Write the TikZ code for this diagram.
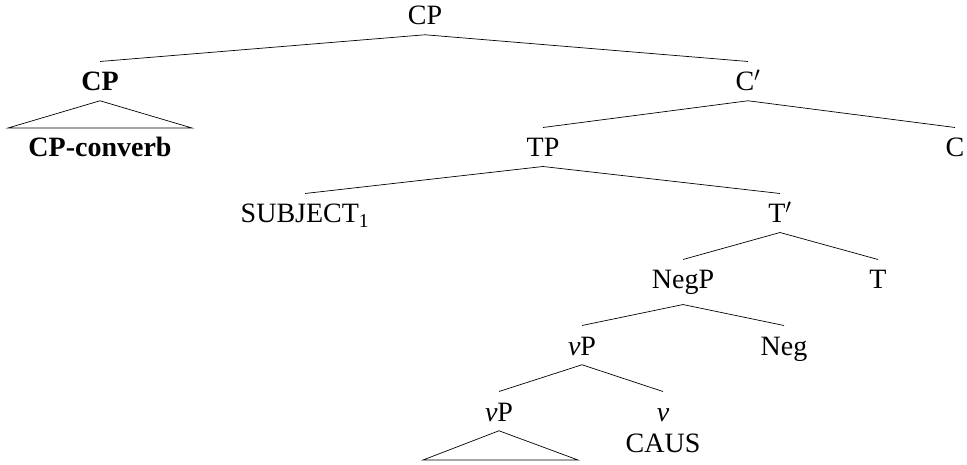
\documentclass[tikz,border=0pt]{standalone}
\usepackage{fontspec}
\setmainfont{Liberation Serif}
\usetikzlibrary{positioning, calc}

\begin{document}
\begin{tikzpicture}[
    x=1pt, y=-1pt,
    cat/.style={font=\fontsize{28}{32}\selectfont, anchor=base, text height=20pt, inner sep=9.3pt},
    boldcat/.style={cat, font=\fontsize{28}{32}\selectfont\bfseries},
    branch/.style={line width=0.7pt}
]
    \useasboundingbox (0,0) rectangle (967,465);

    % Root
    \node[cat] (cp) at (425,25) {CP};

    % Adjoined converb clause
    \node[boldcat] (adjcp) at (100,91) {CP};
    \node[boldcat] (converb) at (100,157) {CP-converb};
    \coordinate (tri1l) at (8,128);
    \coordinate (tri1r) at (192,128);

    % C-bar and its daughters
    \node[cat] (cbar) at (748,91) {C$'$};
    \node[cat] (tp) at (543,157) {TP};
    \node[cat] (c) at (955,157) {C};

    % TP
    \node[cat] (subj) at (305,223) {SUBJECT\textsubscript{1}};
    \node[cat] (tbar) at (780,223) {T$'$};
    \node[cat] (negp) at (683,289) {NegP};
    \node[cat] (t) at (878,289) {T};

    % NegP and vP
    \node[cat] (vp) at (582,355) {\textit{v}P};
    \node[cat] (neg) at (784,355) {Neg};
    \node[cat] (vplow) at (499,421) {\textit{v}P};
    \node[cat] (vhead) at (663,421) {\textit{v}};
    \node[cat] (caus) at (663,452) {CAUS};
    \coordinate (tri2l) at (423,460);
    \coordinate (tri2r) at (578,460);

    % Branches
    \draw[branch] (cp.south) -- (adjcp.north);
    \draw[branch] (cp.south) -- (cbar.north);
    \draw[branch] (adjcp.south) -- (tri1l) -- (tri1r) -- cycle;
    \draw[branch] (cbar.south) -- (tp.north);
    \draw[branch] (cbar.south) -- (c.north);
    \draw[branch] (tp.south) -- (subj.north);
    \draw[branch] (tp.south) -- (tbar.north);
    \draw[branch] (tbar.south) -- (negp.north);
    \draw[branch] (tbar.south) -- (t.north);
    \draw[branch] (negp.south) -- (vp.north);
    \draw[branch] (negp.south) -- (neg.north);
    \draw[branch] (vp.south) -- (vplow.north);
    \draw[branch] (vp.south) -- (vhead.north);
    \draw[branch] (vplow.south) -- (tri2l) -- (tri2r) -- cycle;

\end{tikzpicture}
\end{document}
